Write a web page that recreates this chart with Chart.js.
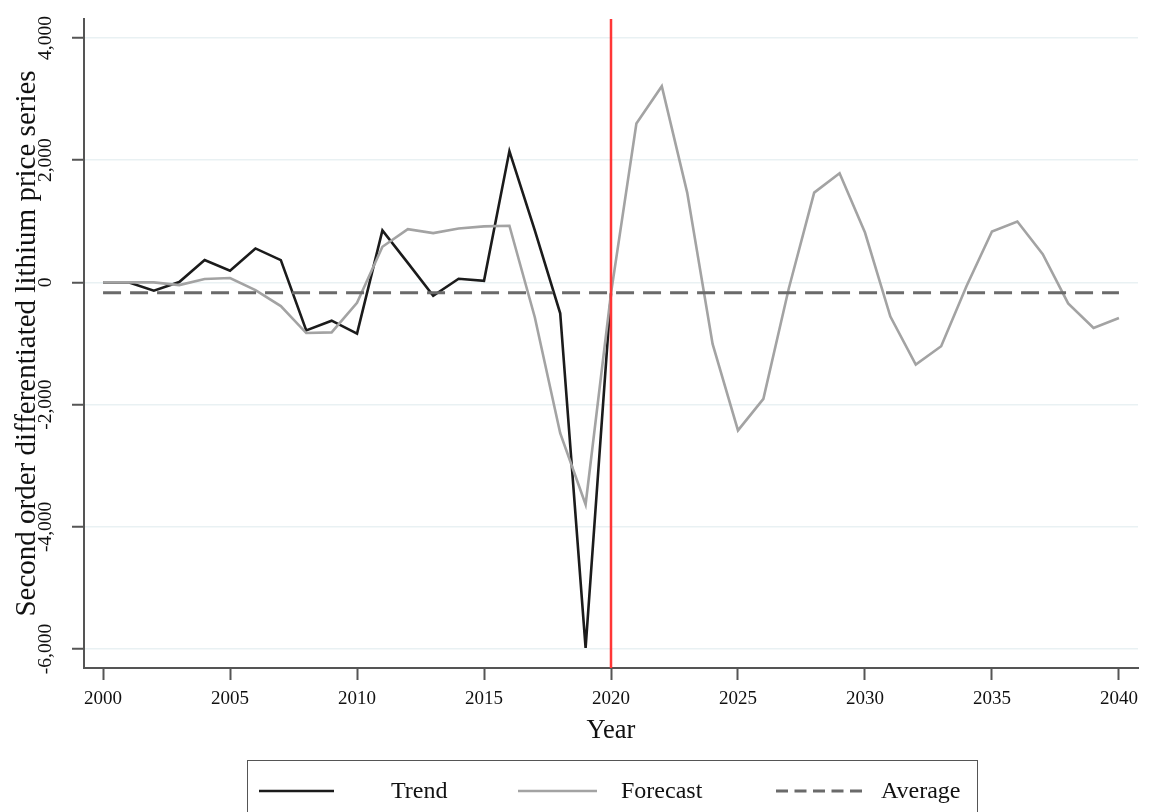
<!DOCTYPE html>
<html>
<head>
<meta charset="utf-8">
<script src="https://cdn.jsdelivr.net/npm/chart.js@4.4.1/dist/chart.umd.min.js"></script>
<style>
  html, body { margin: 0; padding: 0; background: #fff; }
  #wrap { position: relative; width: 1153px; height: 812px; overflow: hidden; }
  #c { position: absolute; left: 0; top: 0; }
  #legend {
    position: absolute; left: 247px; top: 760px; width: 731px; height: 80px;
    border: 1.5px solid #555; box-sizing: border-box;
    font-family: 'Liberation Serif', 'Times New Roman', serif; font-size: 24px; color: #111;
  }
  #legend .sample { position: absolute; top: 23px; height: 14px; }
  #legend .label { position: absolute; top: 15px; line-height: 28px; white-space: nowrap; }
</style>
</head>
<body>
<div id="wrap">
  <canvas id="c" width="1153" height="812"></canvas>
  <div id="legend"></div>
</div>
<script>
// Years on the horizontal axis
const trendYears = [2000, 2001, 2002, 2003, 2004, 2005, 2006, 2007, 2008, 2009, 2010,
                    2011, 2012, 2013, 2014, 2015, 2016, 2017, 2018, 2019, 2020];
const forecastYears = [2000, 2001, 2002, 2003, 2004, 2005, 2006, 2007, 2008, 2009, 2010,
                       2011, 2012, 2013, 2014, 2015, 2016, 2017, 2018, 2019, 2020,
                       2021, 2022, 2023, 2024, 2025, 2026, 2027, 2028, 2029, 2030,
                       2031, 2032, 2033, 2034, 2035, 2036, 2037, 2038, 2039, 2040];

// Second order differenced lithium price: observed trend
const trendValues = [0, 0, -136, 5, 365, 191, 556, 365, -785, -627, -839,
                     850, 320, -218, 60, 27, 2148, 850, -505, -5980, -180];

// Fitted values and forecast to 2040
const forecastValues = [0, 0, 0, -44, 55, 71, -125, -387, -829, -818, -333,
                        583, 872, 807, 883, 916, 927, -570, -2468, -3635, -180,
                        2601, 3211, 1469, -1007, -2422, -1905, -100, 1469, 1785, 816,
                        -560, -1344, -1045, -60, 833, 996, 463, -343, -746, -582];

// Mean of the differenced series
const averageValue = -170;
const averageYears = [2000, 2040];

// Start of the forecast horizon
const cutoffYear = 2020;

// Axis ticks
const yTickValues = [-6000, -4000, -2000, 0, 2000, 4000];
const xTickValues = [2000, 2005, 2010, 2015, 2020, 2025, 2030, 2035, 2040];

const seriesNames = ['Trend', 'Forecast', 'Average'];

const FONT = "'Liberation Serif', 'Times New Roman', serif";
const AXIS = '#555';

const cutoffLine = {
  id: 'cutoffLine',
  afterDatasetsDraw(chart) {
    const { ctx, chartArea, scales } = chart;
    const x = scales.x.getPixelForValue(cutoffYear);
    ctx.save();
    ctx.strokeStyle = '#ff3636';
    ctx.lineWidth = 2.5;
    ctx.beginPath();
    ctx.moveTo(x, chartArea.top);
    ctx.lineTo(x, chartArea.bottom);
    ctx.stroke();
    ctx.restore();
  }
};

const chart = new Chart(document.getElementById('c'), {
  type: 'line',
  data: {
    datasets: [
      {
        label: seriesNames[0],
        data: trendYears.map((yr, i) => ({ x: yr, y: trendValues[i] })),
        borderColor: '#1b1b1b', borderWidth: 2.6,
        pointRadius: 0, tension: 0, order: 2
      },
      {
        label: seriesNames[1],
        data: forecastYears.map((yr, i) => ({ x: yr, y: forecastValues[i] })),
        borderColor: '#a3a3a3', borderWidth: 2.6,
        pointRadius: 0, tension: 0, order: 1
      },
      {
        label: seriesNames[2],
        data: averageYears.map(yr => ({ x: yr, y: averageValue })),
        borderColor: '#6a6a6a', borderWidth: 3, borderDash: [18, 9],
        pointRadius: 0, tension: 0, order: 0
      }
    ]
  },
  options: {
    responsive: false,
    animation: false,
    devicePixelRatio: 1,
    layout: { padding: { left: 0, top: 19, right: 15, bottom: 65 } },
    plugins: { legend: { display: false }, tooltip: { enabled: false } },
    scales: {
      x: {
        type: 'linear',
        min: 1999.25, max: 2040.75,
        afterBuildTicks: s => { s.ticks = xTickValues.map(v => ({ value: v })); },
        afterFit: s => { s.height = 79; },
        ticks: {
          includeBounds: false,
          color: '#111', padding: 8, maxRotation: 0, autoSkip: false,
          font: { family: FONT, size: 19 },
          callback: v => String(v)
        },
        grid: { drawOnChartArea: false, drawTicks: true, tickLength: 12, tickColor: AXIS, tickWidth: 2 },
        border: { display: true, color: AXIS, width: 2 },
        title: {
          display: true, text: 'Year', color: '#111',
          font: { family: FONT, size: 26.5 }, padding: { top: 0, bottom: 0 }
        }
      },
      y: {
        type: 'linear',
        min: -6310, max: 4310,
        afterBuildTicks: s => { s.ticks = yTickValues.map(v => ({ value: v })); },
        afterFit: s => { s.width = 84; },
        ticks: {
          includeBounds: false,
          color: '#111', padding: 1, minRotation: 90, maxRotation: 90,
          crossAlign: 'center', autoSkip: false,
          font: { family: FONT, size: 19.5 },
          callback: v => Number(v).toLocaleString('en-US')
        },
        grid: { color: '#e9f1f3', lineWidth: 1.5, drawTicks: true, tickLength: 12, tickColor: AXIS, tickWidth: 2 },
        border: { display: true, color: AXIS, width: 2 },
        title: {
          display: true, text: 'Second order differentiated lithium price series', color: '#111',
          font: { family: FONT, size: 29 }, padding: { top: 10, bottom: 0 }
        }
      }
    }
  },
  plugins: [cutoffLine]
});

// Legend box underneath the plot, built from the dataset styles
const legendLayout = [
  { sample: 11, sampleWidth: 75, text: 143 },
  { sample: 270, sampleWidth: 79, text: 373 },
  { sample: 528, sampleWidth: 87, text: 633 }
];
const legend = document.getElementById('legend');
chart.data.datasets.forEach((ds, i) => {
  const pos = legendLayout[i];
  const svgNS = 'http://www.w3.org/2000/svg';
  const svg = document.createElementNS(svgNS, 'svg');
  svg.setAttribute('class', 'sample');
  svg.setAttribute('width', pos.sampleWidth);
  svg.setAttribute('height', 14);
  svg.style.left = pos.sample + 'px';
  const line = document.createElementNS(svgNS, 'line');
  line.setAttribute('x1', 0); line.setAttribute('x2', pos.sampleWidth);
  line.setAttribute('y1', 7); line.setAttribute('y2', 7);
  line.setAttribute('stroke', ds.borderColor);
  line.setAttribute('stroke-width', ds.borderWidth);
  if (ds.borderDash) line.setAttribute('stroke-dasharray', '12 6.5');
  svg.appendChild(line);
  legend.appendChild(svg);
  const lab = document.createElement('div');
  lab.className = 'label';
  lab.style.left = pos.text + 'px';
  lab.textContent = ds.label;
  legend.appendChild(lab);
});
</script>
</body>
</html>
